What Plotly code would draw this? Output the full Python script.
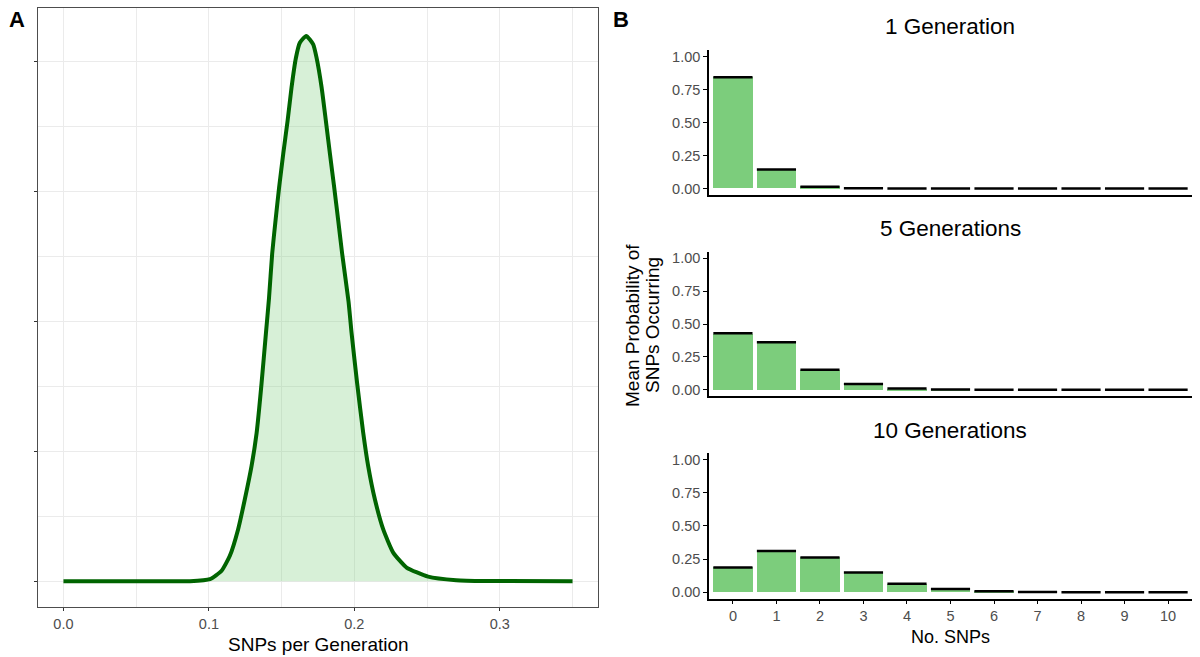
import plotly.graph_objects as go

# ---------------- Panel A data (density curve) ----------------
rate_x = [0.0, 0.05, 0.087, 0.1007, 0.1087, 0.1144, 0.1201, 0.1247, 0.1293, 0.1328,
          0.1362, 0.1392, 0.1413, 0.1435, 0.1458, 0.1483, 0.1511, 0.1541, 0.1568,
          0.1598, 0.1625, 0.1669, 0.1717, 0.174, 0.1775, 0.1804, 0.1832, 0.1861,
          0.1889, 0.1916, 0.196, 0.1981, 0.2019, 0.2061, 0.2095, 0.2141, 0.2198,
          0.2267, 0.2359, 0.2507, 0.27, 0.29, 0.35]
density_y = [0.0, 0.0, 0.0, 0.06, 0.32, 0.78, 1.6, 2.52, 3.54, 4.56,
             6.09, 7.63, 8.7, 10.08, 11.1, 12.13, 13.15, 14.17, 15.19,
             16.1, 16.57, 16.78, 16.52, 16.11, 15.19, 14.17, 13.15, 12.13,
             11.1, 10.08, 8.6, 7.63, 6.09, 4.56, 3.54, 2.52, 1.6,
             0.88, 0.42, 0.14, 0.03, 0.005, 0.0]

# ---------------- Panel B data ----------------
n_snps = [0, 1, 2, 3, 4, 5, 6, 7, 8, 9, 10]
gen_titles = ["1 Generation", "5 Generations", "10 Generations"]
prob_gen1 = [0.845, 0.143, 0.013, 0.001, 0.0, 0.0, 0.0, 0.0, 0.0, 0.0, 0.0]
prob_gen5 = [0.430, 0.362, 0.153, 0.044, 0.010, 0.002, 0.0, 0.0, 0.0, 0.0, 0.0]
prob_gen10 = [0.186, 0.311, 0.262, 0.148, 0.064, 0.023, 0.007, 0.002, 0.0, 0.0, 0.0]
probs = [prob_gen1, prob_gen5, prob_gen10]
ytitle_lines = ["Mean Probability of", "SNPs Occurring"]

FONT = "Liberation Sans, Arial, sans-serif"
W, H = 1200, 657
TICK_FS = 14.5
AXT_FS = 19
TITLE_FS = 22.5

def px_x(p):
    return p / W

def px_y(p):
    return (H - p) / H

fig = go.Figure()

# Panel A
fig.add_trace(go.Scatter(
    x=rate_x, y=density_y, mode="lines", line=dict(color="#006400", width=4, shape="spline", smoothing=0.5),
    fill="tozeroy", fillcolor="rgba(124,205,124,0.3)", xaxis="x", yaxis="y", showlegend=False,
    hoverinfo="skip"))

# Panel B
bar_w = 0.9
axes_names = [("x2", "y2"), ("x3", "y3"), ("x4", "y4")]
for (xa, ya), vals in zip(axes_names, probs):
    fig.add_trace(go.Bar(x=n_snps, y=vals, width=bar_w, marker=dict(color="#7CCD7C", line=dict(width=0)),
                         xaxis=xa, yaxis=ya, showlegend=False))
    sx, sy = [], []
    for k, v in zip(n_snps, vals):
        sx += [k - bar_w / 2, k + bar_w / 2, None]
        sy += [v, v, None]
    fig.add_trace(go.Scatter(x=sx, y=sy, mode="lines", line=dict(color="black", width=2.5),
                             xaxis=xa, yaxis=ya, showlegend=False, hoverinfo="skip"))

grid_col = "#EBEBEB"
layout = dict(
    width=W, height=H, margin=dict(l=0, r=0, t=0, b=0),
    paper_bgcolor="white", plot_bgcolor="white",
    font=dict(family=FONT, size=TICK_FS, color="#4D4D4D"),
    bargap=0,
    xaxis=dict(domain=[px_x(38), px_x(598)], range=[-0.0175, 0.3675], anchor="y",
               tickvals=[0, 0.1, 0.2, 0.3], ticktext=["0.0", "0.1", "0.2", "0.3"],
               showgrid=True, gridcolor=grid_col, gridwidth=1.2,
               minor=dict(showgrid=True, gridcolor=grid_col, gridwidth=0.8, tickvals=[0.05, 0.15, 0.25, 0.35]),
               ticks="outside", ticklen=3, tickcolor="#333333",
               showline=True, mirror=True, linecolor="#4D4D4D", linewidth=1, zeroline=False,
               tickfont=dict(size=TICK_FS, color="#4D4D4D")),
    yaxis=dict(domain=[px_y(608), px_y(7)], range=[-0.8, 17.64], anchor="x",
               tickvals=[0, 4, 8, 12, 16], showticklabels=False,
               showgrid=True, gridcolor=grid_col, gridwidth=1.2,
               minor=dict(showgrid=True, gridcolor=grid_col, gridwidth=0.8, tickvals=[2, 6, 10, 14]),
               ticks="outside", ticklen=3, tickcolor="#333333",
               showline=True, mirror=True, linecolor="#4D4D4D", linewidth=1, zeroline=False),
)

b_dom_x = [px_x(709), px_x(1192)]
b_doms_y = [(194.6, 49.4), (396.6, 251.4), (599.6, 453.4)]
for i, ((xa, ya), (yb, yt)) in enumerate(zip(axes_names, b_doms_y)):
    last = (i == 2)
    layout["xaxis" + xa[1:]] = dict(
        domain=b_dom_x, range=[-0.55, 10.55], anchor=ya,
        tickvals=n_snps if last else [], showticklabels=last,
        ticks="outside" if last else "", ticklen=3, tickcolor="black",
        showgrid=False, zeroline=False, showline=True, linecolor="black", linewidth=1.5,
        tickfont=dict(size=TICK_FS, color="#4D4D4D"))
    layout["yaxis" + ya[1:]] = dict(
        domain=[px_y(yb), px_y(yt)], range=[-0.05, 1.05], anchor=xa,
        tickvals=[0, 0.25, 0.5, 0.75, 1.0], ticktext=["0.00", "0.25", "0.50", "0.75", "1.00"],
        ticks="outside", ticklen=4, tickcolor="black",
        showgrid=False, zeroline=False, showline=True, linecolor="black", linewidth=1.5,
        tickfont=dict(size=TICK_FS, color="#4D4D4D"))

fig.update_layout(**layout)

ann = []
ann.append(dict(text="<b>A</b>", x=px_x(17), y=px_y(19), xref="paper", yref="paper", showarrow=False,
                font=dict(size=22, color="black", family=FONT), xanchor="center", yanchor="middle"))
ann.append(dict(text="<b>B</b>", x=px_x(621), y=px_y(19), xref="paper", yref="paper", showarrow=False,
                font=dict(size=22, color="black", family=FONT), xanchor="center", yanchor="middle"))
for t, yc in zip(gen_titles, [26, 228, 431]):
    ann.append(dict(text=t, x=px_x(950), y=px_y(yc), xref="paper", yref="paper", showarrow=False,
                    font=dict(size=TITLE_FS, color="black", family=FONT), xanchor="center", yanchor="middle"))
ann.append(dict(text="SNPs per Generation", x=px_x(318), y=px_y(645), xref="paper", yref="paper",
                showarrow=False, font=dict(size=AXT_FS, color="black", family=FONT), xanchor="center", yanchor="middle"))
ann.append(dict(text="No. SNPs", x=px_x(950), y=px_y(638), xref="paper", yref="paper",
                showarrow=False, font=dict(size=18, color="black", family=FONT), xanchor="center", yanchor="middle"))
for line_txt, xc in zip(ytitle_lines, [632, 652]):
    ann.append(dict(text=line_txt, x=px_x(xc), y=px_y(325), xref="paper", yref="paper",
                    showarrow=False, textangle=-90, font=dict(size=AXT_FS, color="black", family=FONT),
                    xanchor="center", yanchor="middle"))
fig.update_layout(annotations=ann)

fig.write_html("out.html", config={"displayModeBar": False},
               post_script="document.body.style.margin='0';document.body.style.overflow='hidden';")
